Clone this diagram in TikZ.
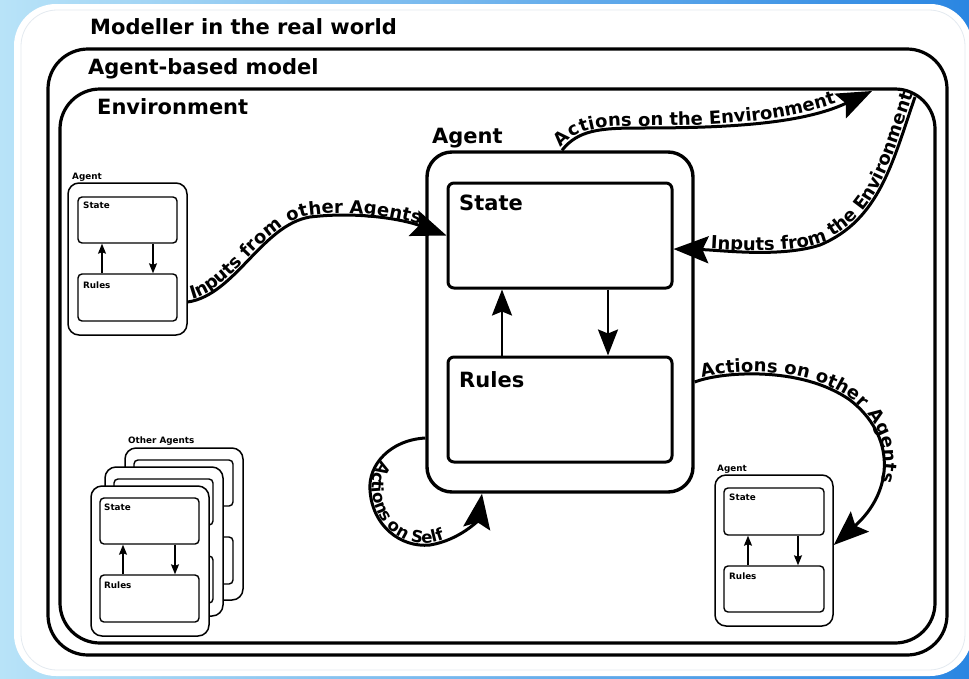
\documentclass[tikz,border=0pt]{standalone}
\usepackage{fontspec}
\setmainfont{DejaVu Sans}
\usetikzlibrary{arrows.meta,decorations.text,fit}
\definecolor{bgL}{HTML}{B8E3F8}
\definecolor{bgM}{HTML}{A2D8F5}
\definecolor{bgR}{HTML}{2A86E2}
\definecolor{cardline}{HTML}{E4EAF0}
\newcommand\cfont{\bfseries\fontsize{18}{20}\selectfont}
\newcommand\sfontself{\bfseries\fontsize{16.5}{18}\selectfont}
\begin{document}
\begin{tikzpicture}[x=1pt,y=-1pt,
  frame/.style={draw=black, line width=3.2pt, rounded corners=40pt, inner sep=0pt},
  agentbig/.style={draw, line width=3.4pt, rounded corners=25pt, inner sep=0pt, fill=white},
  partbig/.style={draw, line width=3pt, rounded corners=6pt, inner sep=0pt, fill=white},
  agentsm/.style={draw, line width=1.5pt, rounded corners=11pt, inner sep=0pt, fill=white},
  partsm/.style={draw, line width=1.4pt, rounded corners=4pt, inner sep=0pt, fill=white},
  bigtxt/.style={font=\bfseries\fontsize{21}{24}\selectfont, anchor=base west, inner sep=0pt},
  smtxt/.style={font=\bfseries\fontsize{8.8}{10}\selectfont, anchor=base west, inner sep=0pt},
  flow/.style={line width=3pt, -{Stealth[length=35pt,width=27pt,inset=6pt]}},
  innerarr/.style={line width=2.4pt, -{Stealth[length=26pt,width=20pt,inset=4pt]}},
  smarr/.style={line width=1.3pt, -{Stealth[length=10pt,width=8pt,inset=1.5pt]}},
]
\useasboundingbox (0,0) rectangle (969,678);
\shade[left color=bgL, middle color=bgM, right color=bgR] (0,0) rectangle (969,678);
\fill[white, rounded corners=42pt] (14,4) rectangle (972,676);
\draw[cardline, line width=0.8pt, rounded corners=36pt] (21,10) rectangle (965,670);

% frames
\node[frame, fit={(48,49) (947,655)}] (abm) {};
\node[frame, fit={(60,89) (935,643)}] (env) {};
\node[bigtxt] (lreal) at (90,34) {Modeller in the real world};
\node[bigtxt] (labm) at (88,74) {Agent-based model};
\node[bigtxt] (lenv) at (97,114) {Environment};

% small agent top-left
\node[smtxt] (SAL) at (72,179) {Agent};
\node[agentsm, fit={(68,183) (187,335)}] (SA) {};
\node[partsm, fit={(78,197) (177,243)}] (SS) {};
\node[partsm, fit={(78,274) (177,321)}] (SR) {};
\node[smtxt] (SSL) at (83,208) {State};
\node[smtxt] (SRL) at (83,288) {Rules};
\draw[smarr] ([xshift=-25.5pt]SR.north) -- ([xshift=-25.5pt]SS.south);
\draw[smarr] ([xshift=25.5pt]SS.south) -- ([xshift=25.5pt]SR.north);

% other agents stack
\node[smtxt] (OAL) at (128,443) {Other Agents};
\node[agentsm, fit={(125,448) (243,600)}] (OB) {};
\node[partsm, fit={(134,460) (233,506)}] (OBS) {};
\node[partsm, fit={(134,537) (233,584)}] (OBR) {};
\node[agentsm, fit={(105,467) (223,616)}] (OM) {};
\node[partsm, fit={(114,479) (213,525)}] (OMS) {};
\node[partsm, fit={(114,556) (213,603)}] (OMR) {};
\node[agentsm, fit={(91,486) (209,636)}] (OF) {};
\node[partsm, fit={(100,498) (199,544)}] (OFS) {};
\node[partsm, fit={(100,575) (199,622)}] (OFR) {};
\node[smtxt] (OFSL) at (104,510) {State};
\node[smtxt] (OFRL) at (104,588) {Rules};
\draw[smarr] ([xshift=-26.5pt]OFR.north) -- ([xshift=-26.5pt]OFS.south);
\draw[smarr] ([xshift=25.5pt]OFS.south) -- ([xshift=25.5pt]OFR.north);

% right agent
\node[smtxt] (RAL) at (717,471) {Agent};
\node[agentsm, fit={(715,475) (833,626)}] (RA) {};
\node[partsm, fit={(724,488) (824,535)}] (RS) {};
\node[partsm, fit={(724,566) (824,612)}] (RR) {};
\node[smtxt] (RSL) at (729,500) {State};
\node[smtxt] (RRL) at (729,579) {Rules};
\draw[smarr] ([xshift=-26pt]RR.north) -- ([xshift=-26pt]RS.south);
\draw[smarr] ([xshift=24pt]RS.south) -- ([xshift=24pt]RR.north);

% main agent
\node[bigtxt] (AL) at (432,143) {Agent};
\node[agentbig, fit={(427,152) (693,492)}] (A) {};
\node[partbig, fit={(448,183) (672,288)}] (AState) {};
\node[partbig, fit={(448,357) (672,462)}] (ARules) {};
\node[bigtxt] (ASL) at (459,210) {State};
\node[bigtxt] (ARL) at (459,387) {Rules};
\draw[innerarr] ([xshift=-58pt]ARules.north) -- ([xshift=-58pt]AState.south);
\draw[innerarr] ([xshift=48pt]AState.south) -- ([xshift=48pt]ARules.north);

% free ends on the environment
\coordinate (envT) at (872,91);
\coordinate (envC) at (915,97);

% Inputs from other Agents
\draw[flow] ([yshift=-43pt]SA.east) .. controls (235,295) and (262,225) .. (310,217)
   .. controls (360,211) and (405,220) .. (AState.west);
\path[decorate, decoration={text along path, raise=2pt,
   text align={left, left indent=5pt},
   text={|\cfont|Inputs from other Agents}}]
   ([yshift=-43pt]SA.east) .. controls (235,295) and (262,225) .. (310,217)
   .. controls (360,211) and (405,220) .. (AState.west);

% Actions on the Environment
\draw[flow] ([xshift=2pt]A.north) .. controls (578,130) and (600,128) .. (640,128)
   .. controls (720,128) and (800,125) .. (envT);
\path[decorate, decoration={text along path, raise=2pt,
   text align={left, left indent=1pt},
   text={|\cfont|Actions on the Environment}}]
   ([xshift=2pt]A.north) .. controls (578,130) and (600,128) .. (640,128)
   .. controls (720,128) and (800,125) .. (envT);

% Inputs from the Environment
\draw[flow] (envC) .. controls (893,160) and (880,220) .. (820,245)
   .. controls (780,258) and (720,250) .. ([yshift=-13.5pt]AState.east);
\path[decorate, decoration={text along path, raise=2pt,
   text align={left, left indent=37pt},
   text={|\cfont|Inputs from the Environment}}]
   ([yshift=-13.5pt]AState.east) .. controls (720,250) and (780,258) .. (820,245)
   .. controls (880,220) and (893,160) .. (envC);

% Actions on other Agents
\draw[flow] ([yshift=-60pt]A.east) .. controls (720,372) and (800,365) .. (850,400)
   .. controls (895,435) and (895,490) .. ([yshift=5.5pt]RA.east);
\path[decorate, decoration={text along path, raise=2pt,
   text align={left, left indent=8pt},
   text={|\cfont|Actions on other Agents}}]
   ([yshift=-60pt]A.east) .. controls (720,372) and (800,365) .. (850,400)
   .. controls (895,435) and (895,490) .. ([yshift=5.5pt]RA.east);

% Actions on Self
\draw[flow] ([yshift=-116pt]A.west) .. controls (390,440) and (368,465) .. (370,490)
   .. controls (372,525) and (400,548) .. (430,545)
   .. controls (460,540) and (478,520) .. ([xshift=-78pt]A.south);
\path[decorate, decoration={text along path, raise=2pt,
   text align={left, left indent=52pt},
   text={|\sfontself|Actions on Self}}]
   ([yshift=-116pt]A.west) .. controls (390,440) and (368,465) .. (370,490)
   .. controls (372,525) and (400,548) .. (430,545)
   .. controls (460,540) and (478,520) .. ([xshift=-78pt]A.south);
\end{tikzpicture}
\end{document}
